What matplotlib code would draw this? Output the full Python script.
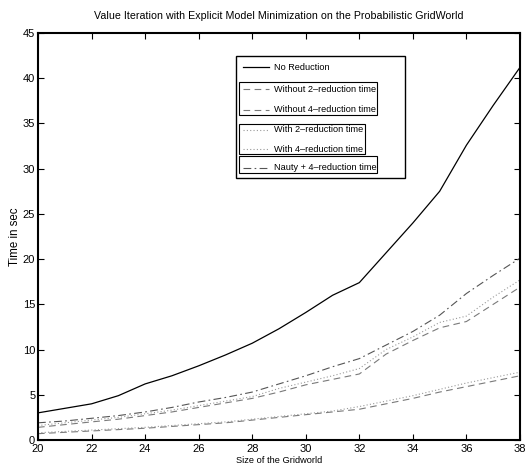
import matplotlib
matplotlib.use("Agg")
import matplotlib.pyplot as plt
from matplotlib.patches import Rectangle
from matplotlib.lines import Line2D

plt.rcParams['font.family'] = ['Liberation Sans', 'DejaVu Sans']

sizes = [20, 21, 22, 23, 24, 25, 26, 27, 28, 29, 30, 31, 32, 33, 34, 35, 36, 37, 38]

no_reduction = [3.0, 3.5, 4.0, 4.9, 6.2, 7.1, 8.2, 9.4, 10.7, 12.3, 14.1, 16.0, 17.4, 20.7, 24.0, 27.5, 32.6, 37.0, 41.2]
without_2 = [0.7, 0.85, 1.0, 1.15, 1.3, 1.5, 1.7, 1.9, 2.2, 2.5, 2.8, 3.1, 3.4, 4.0, 4.6, 5.3, 5.9, 6.5, 7.1]
without_4 = [1.4, 1.7, 2.0, 2.3, 2.7, 3.1, 3.6, 4.1, 4.6, 5.3, 6.1, 6.7, 7.3, 9.5, 11.0, 12.4, 13.1, 15.0, 16.9]
with_2 = [0.8, 0.95, 1.1, 1.25, 1.4, 1.6, 1.8, 2.0, 2.3, 2.6, 2.9, 3.2, 3.7, 4.3, 4.9, 5.6, 6.3, 6.9, 7.5]
with_4 = [1.6, 1.9, 2.2, 2.5, 2.9, 3.3, 3.8, 4.3, 4.8, 5.7, 6.4, 7.1, 7.9, 10.0, 11.4, 13.0, 13.7, 15.8, 17.7]
nauty_4 = [1.9, 2.1, 2.4, 2.7, 3.1, 3.6, 4.2, 4.7, 5.3, 6.2, 7.1, 8.1, 9.0, 10.5, 12.0, 13.8, 16.2, 18.2, 20.1]

labels = ['No Reduction', 'Without 2\u2013reduction time', 'Without 4\u2013reduction time',
          'With 2\u2013reduction time', 'With 4\u2013reduction time', 'Nauty + 4\u2013reduction time']

W, H = 527, 469
fig = plt.figure(figsize=(W / 100, H / 100), dpi=100)
ax = fig.add_axes([38 / W, 1 - 440 / H, (520 - 38) / W, (440 - 33) / H])

styles = [
    dict(color='black', lw=0.9, ls='-'),
    dict(color='#7a7a7a', lw=0.8, ls=(0, (6, 4))),
    dict(color='#7a7a7a', lw=0.8, ls=(0, (6, 4))),
    dict(color='#9a9a9a', lw=0.8, ls=(0, (1, 2))),
    dict(color='#9a9a9a', lw=0.8, ls=(0, (1, 2))),
    dict(color='#555555', lw=0.8, ls=(0, (7, 3, 1.5, 3))),
]
series = [no_reduction, without_2, without_4, with_2, with_4, nauty_4]
for ys, st in zip(series, styles):
    ax.plot(sizes, ys, **st)

ax.set_xlim(20, 38)
ax.set_ylim(0, 45)
ax.set_xticks(range(20, 39, 2))
ax.set_yticks(range(0, 46, 5))
ax.tick_params(direction='in', length=4, width=0.8, top=True, right=True, labelsize=8, pad=2)
ax.tick_params(axis='x', pad=3)
for sp in ax.spines.values():
    sp.set_linewidth(1.5)
ax.set_xlabel('Size of the Gridworld', fontsize=6.7, labelpad=1)
ax.set_ylabel('Time in sec', fontsize=8.3)
ax.yaxis.set_label_coords(-0.035, 0.5)
ax.set_title('Value Iteration with Explicit Model Minimization on the Probabilistic GridWorld',
             fontsize=7.7, pad=10)

# legend drawn by hand in pixel coordinates, with grouped boxes
def fx(px):
    return px / W

def fy(py):
    return 1 - py / H

tf = fig.transFigure
fig.patches.append(Rectangle((fx(236), fy(178)), fx(405) - fx(236), fy(56) - fy(178),
                             transform=tf, fill=True, facecolor='white', edgecolor='black', lw=1.0, zorder=5))
for x0, x1, y0, y1 in [(239, 377, 82, 115), (239, 365, 124, 154), (239, 377, 156, 173)]:
    fig.patches.append(Rectangle((fx(x0), fy(y1)), fx(x1) - fx(x0), fy(y0) - fy(y1),
                                 transform=tf, fill=False, edgecolor='black', lw=0.8, zorder=6))
rows = [67, 89, 110, 130, 149, 168]
for lab, st, yy in zip(labels, styles, rows):
    fig.lines.append(Line2D([fx(243), fx(269)], [fy(yy), fy(yy)], transform=tf, zorder=7, **st))
    fig.text(fx(274), fy(yy), lab, fontsize=6.6, va='center', ha='left', zorder=7)

fig.savefig('out.png', dpi=100)
